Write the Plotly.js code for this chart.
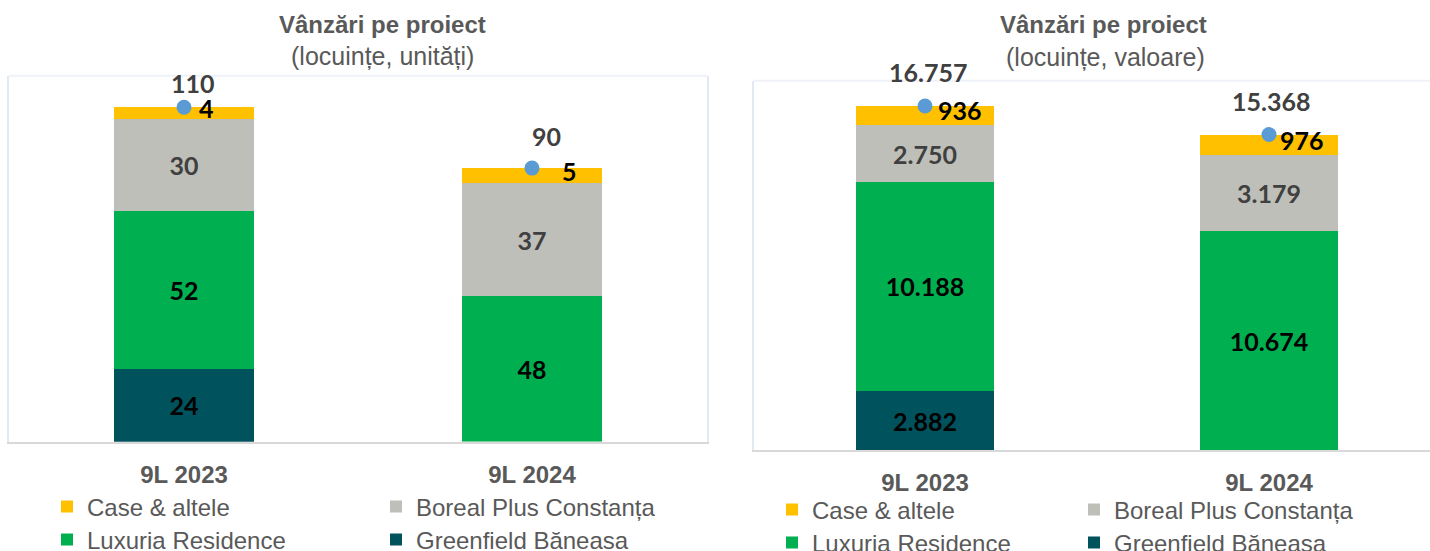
<!DOCTYPE html>
<html>
<head>
<meta charset="utf-8">
<script src="https://cdn.plot.ly/plotly-3.0.1.min.js"></script>
<style>html,body{margin:0;padding:0;background:#fff}#chart{width:1430px;height:551px}</style>
</head>
<body>
<div id="chart"></div>
<script>
// ---- data ----
const categories = ['9L 2023', '9L 2024'];
const seriesNames = ['Case & altele', 'Boreal Plus Constanța', 'Luxuria Residence', 'Greenfield Băneasa'];

// left chart: units
const unitsCase = [4, 5];
const unitsBoreal = [30, 37];
const unitsLuxuria = [52, 48];
const unitsGreenfield = [24, null];
const unitsTotal = [110, 90];

// right chart: value
const valueCase = [936, 976];
const valueBoreal = [2750, 3718];          // drawn height
const valueBorealLabels = ['2.750', '3.179']; // label as printed on the chart
const valueLuxuria = [10188, 10674];
const valueGreenfield = [2882, null];
const valueTotal = [16757, 15368];

const titleMain = 'Vânzări pe proiect';
const subLeft = '(locuințe, unități)';
const subRight = '(locuințe, valoare)';

// ---- styling ----
const colors = {case: '#ffc000', boreal: '#bfbfb9', lux: '#00b050', green: '#00535d', dot: '#5b9bd5'};
const W = 1430, H = 551;
const px = x => x / W, py = y => (H - y) / H;
const txtFont = 'Liberation Sans, Arial, sans-serif';
const numFont = 'Lato, Liberation Sans, sans-serif';

function fmt(n) { return String(n).replace(/\B(?=(\d{3})+(?!\d))/g, '.'); }

function bar(name, x, y, color, xa, ya, legendId, opts) {
  return Object.assign({
    type: 'bar', name: name, x: x, y: y, xaxis: xa, yaxis: ya, legend: legendId,
    marker: {color: color, line: {width: 0}}, width: 0.4,
    textposition: 'inside', insidetextanchor: 'middle', constraintext: 'none', textangle: 0,
    textfont: {family: numFont, size: 25, color: '#000', weight: 'bold'},
    hoverinfo: 'skip'
  }, opts || {});
}

const grayText = {family: numFont, size: 25, color: '#404040', weight: 'bold'};

const traces = [
  // left
  bar(seriesNames[3], categories, unitsGreenfield, colors.green, 'x', 'y', 'legend4', {texttemplate: '%{y}'}),
  bar(seriesNames[2], categories, unitsLuxuria, colors.lux, 'x', 'y', 'legend3', {texttemplate: '%{y}'}),
  bar(seriesNames[1], categories, unitsBoreal, colors.boreal, 'x', 'y', 'legend2', {texttemplate: '%{y}', textfont: grayText}),
  bar(seriesNames[0], categories, unitsCase, colors.case, 'x', 'y', 'legend', {textposition: 'none'}),
  {type: 'scatter', mode: 'markers', x: categories, y: unitsTotal, xaxis: 'x', yaxis: 'y', showlegend: false, cliponaxis: false,
   marker: {color: colors.dot, size: 15}, hoverinfo: 'skip'},
  // right
  bar(seriesNames[3], categories, valueGreenfield, colors.green, 'x2', 'y2', 'legend8', {texttemplate: '%{y:,}'}),
  bar(seriesNames[2], categories, valueLuxuria, colors.lux, 'x2', 'y2', 'legend7', {texttemplate: '%{y:,}'}),
  bar(seriesNames[1], categories, valueBoreal, colors.boreal, 'x2', 'y2', 'legend6', {text: valueBorealLabels, texttemplate: '%{text}', textfont: grayText}),
  bar(seriesNames[0], categories, valueCase, colors.case, 'x2', 'y2', 'legend5', {textposition: 'none'}),
  {type: 'scatter', mode: 'markers', x: categories, y: valueTotal, xaxis: 'x2', yaxis: 'y2', showlegend: false, cliponaxis: false,
   marker: {color: colors.dot, size: 15}, hoverinfo: 'skip'}
];

const annotations = [];
function ann(text, xref, yref, x, y, xs, ys, font) {
  annotations.push({text: text, xref: xref, yref: yref, x: x, y: y, xshift: xs, yshift: ys,
    showarrow: false, xanchor: 'center', yanchor: 'middle', font: font});
}
const labelFont = {family: numFont, size: 25, color: '#000', weight: 'bold'};
const totalFont = {family: numFont, size: 25, color: '#404040', weight: 'bold'};
// left small segment labels + totals
ann(String(unitsCase[0]), 'x', 'y', 0, unitsTotal[0], 22, -1, labelFont);
ann(String(unitsCase[1]), 'x', 'y', 1, unitsTotal[1], 38, -3, labelFont);
ann(String(unitsTotal[0]), 'x', 'y', 0, unitsTotal[0], 9, 24, totalFont);
ann(String(unitsTotal[1]), 'x', 'y', 1, unitsTotal[1], 15, 32, totalFont);
// right
ann(fmt(valueCase[0]), 'x2', 'y2', 0, valueTotal[0], 35, -4, labelFont);
ann(fmt(valueCase[1]), 'x2', 'y2', 1, valueTotal[1], 33, -5, labelFont);
ann(fmt(valueTotal[0]), 'x2', 'y2', 0, valueTotal[0], 3, 34, totalFont);
ann(fmt(valueTotal[1]), 'x2', 'y2', 1, valueTotal[1], 2, 34, totalFont);
// titles
const tFont = {family: txtFont, size: 24, color: '#595959', weight: 'bold'};
const sFont = {family: txtFont, size: 25, color: '#595959'};
ann(titleMain, 'paper', 'paper', px(382), py(24), 0, 0, tFont);
ann(subLeft, 'paper', 'paper', px(382), py(56), 0, 0, sFont);
ann(titleMain, 'paper', 'paper', px(1103), py(24), 0, 0, tFont);
ann(subRight, 'paper', 'paper', px(1105), py(57), 0, 0, sFont);

const xCommon = {type: 'category', showgrid: false, zeroline: false, showline: true, linecolor: '#d9d9d9', linewidth: 2,
  ticks: '', ticklabelstandoff: 10, tickfont: {family: txtFont, size: 24, color: '#595959', weight: 'bold'}, fixedrange: true};
const yCommon = {showgrid: false, zeroline: false, showticklabels: false, ticks: '', showline: true, mirror: true,
  linecolor: '#e3e8f5', linewidth: 2, fixedrange: true};

const legFont = {family: txtFont, size: 24, color: '#595959'};
function leg(xm, ym) { return {x: px(xm - 23), y: py(ym), xanchor: 'left', yanchor: 'middle', font: legFont,
  bgcolor: 'rgba(0,0,0,0)', borderwidth: 0, orientation: 'h'}; }

const layout = {
  width: W, height: H, margin: {l: 0, r: 0, t: 0, b: 0, autoexpand: false},
  paper_bgcolor: '#fff', plot_bgcolor: '#fff', barmode: 'stack', separators: ',.',
  xaxis: Object.assign({}, xCommon, {domain: [px(9), px(707)], range: [-0.503, 1.503], anchor: 'y'}),
  yaxis: Object.assign({}, yCommon, {domain: [py(441.7), py(75.7)], range: [0, 120.4], anchor: 'x'}),
  xaxis2: Object.assign({}, xCommon, {domain: [px(753.7), 1], range: [-0.498, 1.468], anchor: 'y2'}),
  yaxis2: Object.assign({}, yCommon, {domain: [py(450.3), py(80.7)], range: [0, 17990], anchor: 'x2'}),
  shapes: [
    {type: 'line', xref: 'x domain', yref: 'y domain', x0: 0, x1: 1, y0: 1, y1: 1, line: {color: '#f0f2f9', width: 2}, layer: 'above'},
    {type: 'line', xref: 'x2 domain', yref: 'y2 domain', x0: 0, x1: 1, y0: 1, y1: 1, line: {color: '#f0f2f9', width: 2}, layer: 'above'}
  ],
  legend: leg(70, 507), legend2: leg(399, 507), legend3: leg(70, 540), legend4: leg(399, 540),
  legend5: leg(795, 510), legend6: leg(1097, 510), legend7: leg(795, 543), legend8: leg(1097, 543),
  annotations: annotations,
  showlegend: true
};

Plotly.newPlot('chart', traces, layout, {staticPlot: true, displayModeBar: false});
</script>
</body>
</html>
